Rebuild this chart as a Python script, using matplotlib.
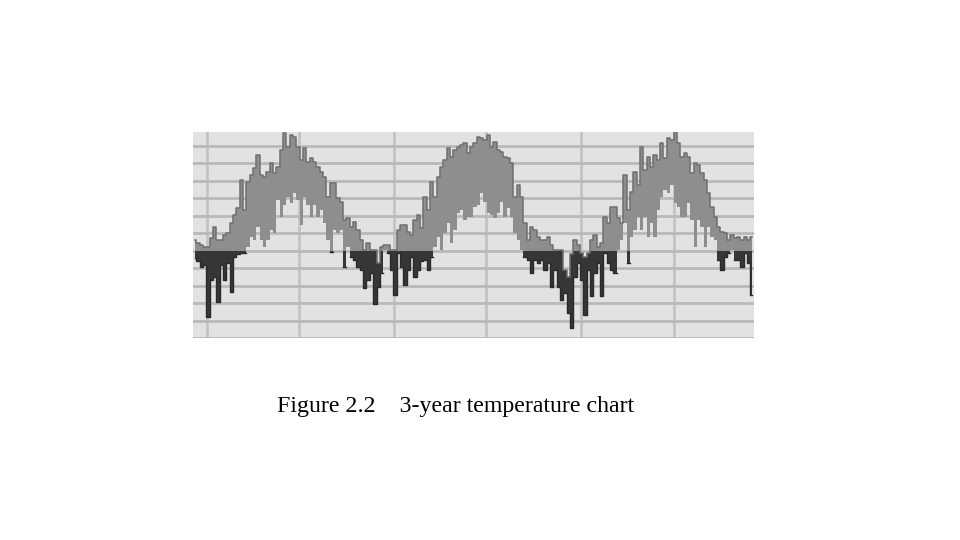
import numpy as np
import pandas as pd
import matplotlib
matplotlib.use("Agg")
import matplotlib.pyplot as plt
import matplotlib.dates as mdates

# Daily-high / daily-low readings (deg C), sampled roughly weekly over three years
highs = [
    3.1, 2.3, 1.7, 1.1, 0.9, 3.7, 6.9, 3.1, 3.1, 4.6, 5.1, 8.0, 10.3, 12.3, 20.3, 11.7, 19.7, 21.7, 23.7, 27.4, 21.7,
    21.1, 22.6, 25.1, 22.3, 24.0, 28.9, 33.7, 29.7, 33.1, 32.6, 29.7, 26.0, 29.4, 25.4, 26.6, 25.4, 24.0, 22.6, 21.1, 15.4, 19.4,
    19.4, 15.1, 14.0, 8.9, 9.4, 6.9, 8.3, 6.0, 3.1, 0.3, 2.3, 0.3, 0.3, -3.4, 1.1, 1.7, 1.7, 0.3, 0.3, 6.0, 7.4,
    7.4, 5.4, 4.6, 8.9, 10.3, 6.6, 15.4, 11.7, 19.7, 15.4, 21.1, 24.0, 26.0, 29.4, 26.9, 28.9, 29.7, 30.3, 30.9, 28.0, 29.7,
    30.9, 32.6, 32.3, 31.7, 33.1, 29.7, 31.1, 28.9, 28.3, 26.9, 26.6, 25.1, 15.4, 18.9, 15.4, 8.0, 3.1, 6.9, 6.0, 4.0, 3.1,
    3.1, 4.0, 1.7, 0.3, 0.3, 0.3, -5.4, -7.4, -1.1, 3.1, 1.7, -0.6, -1.7, -0.6, 3.1, 4.6, 1.1, 2.3, 9.7, 8.0, 12.6,
    12.6, 9.4, 8.0, 21.7, 11.7, 16.9, 22.6, 18.9, 29.7, 23.1, 26.9, 24.0, 27.4, 26.0, 30.9, 26.6, 32.3, 31.7, 34.0, 30.9, 26.9,
    28.0, 26.9, 22.3, 25.1, 24.6, 22.3, 20.3, 16.6, 12.6, 9.7, 6.9, 5.4, 5.1, 3.1, 4.6, 3.7, 4.0, 3.1, 4.0, 3.1, 4.0,
]
lows = [
    -2.0, -3.1, -4.6, -4.0, -18.9, -8.3, -7.4, -14.6, -4.0, -8.3, -3.4, -11.7, -1.7, -1.1, -0.6, -0.6, 1.1, 4.0, 3.1, 6.9, 3.1,
    1.1, 3.1, 6.0, 5.1, 14.6, 9.7, 13.1, 15.4, 13.7, 16.6, 14.6, 7.4, 15.4, 13.1, 9.7, 13.1, 9.7, 11.7, 8.0, 3.1, -0.3,
    6.0, 5.1, 6.0, -4.6, 1.1, -1.7, -2.6, -4.6, -5.4, -10.6, -8.3, -6.3, -15.4, -10.3, -6.3, 0.3, -0.6, -5.4, -12.6, -0.6, -4.6,
    -9.7, -5.4, -1.7, -7.4, -5.4, -3.1, -2.6, -5.4, -1.7, 1.1, 4.0, 0.3, 5.1, 8.0, 2.3, 6.0, 10.9, 11.7, 8.9, 9.7, 9.7,
    12.6, 13.1, 16.6, 14.0, 10.9, 10.3, 9.4, 10.9, 14.0, 9.7, 12.3, 9.7, 5.1, 3.1, 0.3, -1.7, -2.6, -6.3, -2.6, -3.4, -2.6,
    -5.4, -3.4, -10.3, -5.4, -10.3, -14.0, -12.0, -17.7, -22.0, -7.4, -3.4, -8.3, -18.3, -5.4, -13.1, -6.3, -3.4, -13.1, -0.6, -3.4, -5.4,
    -6.3, 0.3, 3.1, 8.0, -3.4, 4.0, 6.0, 9.7, 6.0, 9.7, 4.0, 8.0, 4.0, 11.7, 15.4, 17.4, 16.6, 18.9, 13.7, 12.6, 9.7,
    9.7, 13.7, 8.9, 0.9, 8.9, 6.9, 1.1, 6.9, 4.0, 3.1, -2.6, -5.4, -1.7, -0.6, 0.3, -2.6, -2.6, -4.6, -0.6, -3.4, -12.6,
]
start_date = "2009-12-05"
end_date = "2012-12-04"
caption = "Figure 2.2    3-year temperature chart"

highs = np.array(highs)
lows = np.array(lows)
edges = pd.date_range(start_date, end_date, periods=len(highs) + 1)
dates = edges[:-1] + (edges[1:] - edges[:-1]) / 2

fig = plt.figure(figsize=(9.6, 5.4), dpi=100)
fig.patch.set_facecolor("white")
ax = fig.add_axes([0.201, 0.374, 0.584, 0.382])
ax.set_facecolor("#e2e2e2")

# grid
ax.set_ylim(-25, 34)
ax.set_xlim(edges[0], edges[-1])
ax.set_yticks(np.arange(-25, 31, 5))
ax.xaxis.set_major_locator(mdates.MonthLocator(bymonth=[1, 7]))
ax.grid(axis="y", color="#b9b9b9", linewidth=2.0, zorder=0)
ax.grid(axis="x", color="#c3c3c3", linewidth=2.0, zorder=0)
ax.set_axisbelow(True)
ax.tick_params(left=False, bottom=False, labelleft=False, labelbottom=False)
for s in ax.spines.values():
    s.set_visible(False)

# band above freezing (gray) and below freezing (dark)
ax.fill_between(dates, np.maximum(lows, 0), np.maximum(highs, 0), step="mid",
                color="#8e8e8e", linewidth=0, zorder=2)
ax.fill_between(dates, np.minimum(lows, 0), np.minimum(highs, 0), step="mid",
                color="#363636", linewidth=0, zorder=2)
ax.step(dates, highs, where="mid", color="#6f6f6f", linewidth=1.1, zorder=3)
ax.step(dates, np.ma.masked_where(lows >= 0, lows), where="mid",
        color="#2a2a2a", linewidth=1.0, zorder=3)

fig.text(0.2885, 0.247, caption, fontsize=17.2, family="Liberation Serif",
         ha="left", va="center", color="black")

fig.savefig("out.png", dpi=100)
